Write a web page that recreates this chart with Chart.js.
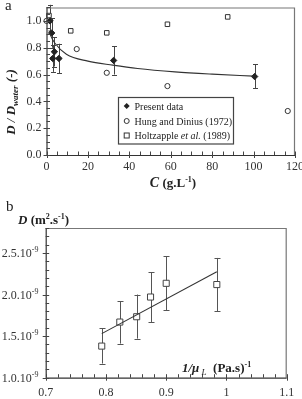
<!DOCTYPE html>
<html><head><meta charset="utf-8">
<script src="https://cdn.jsdelivr.net/npm/chart.js@4/dist/chart.umd.min.js"></script>
<style>
html,body{margin:0;padding:0;background:#fff;}
#wrap{position:relative;width:302px;height:399px;overflow:hidden;background:#fff;}
#a{position:absolute;left:0;top:0;}
#b{position:absolute;left:0;top:195px;}
</style></head><body>
<div id="wrap"><canvas id="a" width="302" height="195"></canvas><canvas id="b" width="302" height="204"></canvas></div>
<script>
// ---------- Panel a data ----------
const presentC  = [1.7, 2.5, 3.0, 3.8, 6.0, 32.4, 100.5];
const presentY  = [1.00, 0.91, 0.72, 0.77, 0.72, 0.705, 0.585];
const presentLo = [0.90, 0.80, 0.62, 0.66, 0.61, 0.60, 0.50];
const presentHi = [1.12, 1.02, 0.82, 0.88, 0.83, 0.81, 0.675];
const hungC = [0, 14.6, 29.1, 58.4, 116.5];
const hungY = [1.0, 0.79, 0.613, 0.514, 0.328];
const holtC = [1.2, 11.7, 29.1, 58.4, 87.5];
const holtY = [1.04, 0.926, 0.911, 0.975, 1.03];
const fitC = [1.2, 2, 4, 9.6, 20, 32, 44, 62, 80, 100];
const fitY = [0.93, 0.89, 0.835, 0.752, 0.70, 0.67, 0.645, 0.62, 0.603, 0.588];
const legendA = ['Present data', 'Hung and Dinius (1972)', 'Holtzapple et al. (1989)'];

// ---------- Panel b data (D in units of 1e-9 m2/s) ----------
const invMu = [0.793, 0.823, 0.851, 0.874, 0.900, 0.984];
const Dval  = [1.38, 1.669, 1.733, 1.97, 2.135, 2.12];
const Dlo   = [1.17, 1.41, 1.47, 1.67, 1.81, 1.80];
const Dhi   = [1.593, 1.92, 2.00, 2.27, 2.46, 2.44];
const lineX = [0.793, 0.984];
const lineY = [1.53, 2.275];
const yTicksB = [1.0, 1.5, 2.0, 2.5];

const SERIF = "'Liberation Serif','Times New Roman',serif";
const INK = '#333';

function rich(ctx, parts, x, y, align) {
  let w = 0;
  parts.forEach(p => { ctx.font = p[1]; w += ctx.measureText(p[0]).width; });
  let cx = align === 'center' ? x - w / 2 : (align === 'right' ? x - w : x);
  ctx.textAlign = 'left';
  ctx.textBaseline = 'alphabetic';
  parts.forEach(p => { ctx.font = p[1]; ctx.fillText(p[0], cx, y + (p[2] || 0)); cx += ctx.measureText(p[0]).width; });
}

function drawTicks(ctx, xs, ys, xMaj, xStep, yMaj, yStep) {
  const a = xs.chartArea || null;
  ctx.strokeStyle = '#444'; ctx.lineWidth = 1;
  const bottom = ys.bottom, left = xs.left;
  ctx.beginPath();
  for (let v = xs.min; v <= xs.max + 1e-9; v += xStep) {
    const px = Math.round(xs.getPixelForValue(v)) + 0.5;
    const isMaj = xMaj.some(m => Math.abs(m - v) < 1e-6);
    ctx.moveTo(px, bottom + (isMaj ? 3 : 0));
    ctx.lineTo(px, bottom - 3.5);
  }
  for (let v = ys.min; v <= ys.max + 1e-9; v += yStep) {
    const py = Math.round(ys.getPixelForValue(v)) + 0.5;
    const isMaj = yMaj.some(m => Math.abs(m - v) < 1e-6);
    ctx.moveTo(left - (isMaj ? 3 : 0), py);
    ctx.lineTo(left + 3.5, py);
  }
  ctx.stroke();
}

function drawBox(ctx, area) {
  ctx.save();
  ctx.strokeStyle = '#777'; ctx.lineWidth = 1.2;
  ctx.beginPath();
  ctx.moveTo(area.left, area.top + 0.5); ctx.lineTo(area.right - 0.5, area.top + 0.5); ctx.lineTo(area.right - 0.5, area.bottom);
  ctx.stroke();
  ctx.strokeStyle = '#333'; ctx.lineWidth = 1.2;
  ctx.beginPath();
  ctx.moveTo(area.left + 0.5, area.top); ctx.lineTo(area.left + 0.5, area.bottom + 0.5); ctx.lineTo(area.right, area.bottom + 0.5);
  ctx.stroke();
  ctx.restore();
}

function errBars(ctx, xs, ys, X, lo, hi, color, cap) {
  ctx.save();
  ctx.strokeStyle = color; ctx.lineWidth = 1;
  ctx.beginPath();
  for (let i = 0; i < X.length; i++) {
    const px = Math.round(xs.getPixelForValue(X[i])) + 0.5;
    const y1 = ys.getPixelForValue(lo[i]), y2 = ys.getPixelForValue(hi[i]);
    ctx.moveTo(px, y1); ctx.lineTo(px, y2);
    ctx.moveTo(px - cap, Math.round(y1) + 0.5); ctx.lineTo(px + cap, Math.round(y1) + 0.5);
    ctx.moveTo(px - cap, Math.round(y2) + 0.5); ctx.lineTo(px + cap, Math.round(y2) + 0.5);
  }
  ctx.stroke();
  ctx.restore();
}

function fixX(h) { return s => { s.height = h; s.paddingLeft = 0; s.paddingRight = 0; }; }
function fixY(w) { return s => { s.width = w; s.paddingTop = 0; s.paddingBottom = 0; }; }

// ---------- Chart a ----------
const plugA = {
  id: 'plugA',
  beforeDatasetsDraw(chart) {
    const { ctx, scales: { x, y } } = chart;
    errBars(ctx, x, y, presentC, presentLo, presentHi, '#444', 2.5);
  },
  afterDraw(chart) {
    const { ctx, chartArea, scales: { x, y } } = chart;
    drawBox(ctx, chartArea);
    drawTicks(ctx, x, y, [0,20,40,60,80,100,120], 5, [0,0.2,0.4,0.6,0.8,1.0], 0.05);
    ctx.fillStyle = '#222';
    // panel letter
    ctx.font = '15px ' + SERIF; ctx.textAlign = 'left'; ctx.textBaseline = 'alphabetic';
    ctx.fillText('a', 5, 10);
    // x title
    rich(ctx, [['C', 'bold italic 14px ' + SERIF], [' (g.L', 'bold 13px ' + SERIF], ['-1', 'bold 8px ' + SERIF, -5], [')', 'bold 13px ' + SERIF]], 173, 187, 'center');
    // y title
    ctx.save();
    ctx.translate(10, 102); ctx.rotate(-Math.PI / 2);
    rich(ctx, [['D / D', 'bold italic 13px ' + SERIF], ['water', 'bold italic 9px ' + SERIF, 3], [' (-)', 'bold italic 13px ' + SERIF]], 0, 4.5, 'center');
    ctx.restore();
    // legend
    const lx = 118.5, ly = 97.5, lw = 115, lh = 46.5;
    ctx.save();
    ctx.fillStyle = '#fff'; ctx.fillRect(lx, ly, lw, lh);
    ctx.strokeStyle = '#444'; ctx.lineWidth = 1.2; ctx.strokeRect(lx, ly, lw, lh);
    const mx = 126.7, rows = [106, 121, 135.5];
    ctx.lineWidth = 1; ctx.strokeStyle = '#333'; ctx.fillStyle = '#222';
    // diamond
    ctx.beginPath(); ctx.moveTo(mx, rows[0] - 3); ctx.lineTo(mx + 3, rows[0]); ctx.lineTo(mx, rows[0] + 3); ctx.lineTo(mx - 3, rows[0]); ctx.closePath(); ctx.fill();
    // circle
    ctx.beginPath(); ctx.arc(mx, rows[1], 2.5, 0, Math.PI * 2); ctx.stroke();
    // square
    ctx.strokeRect(mx - 2.5, rows[2] - 2.5, 5, 5);
    ctx.fillStyle = '#222';
    rich(ctx, [[legendA[0], '10px ' + SERIF]], 134.5, rows[0] + 3.5, 'left');
    rich(ctx, [[legendA[1], '10px ' + SERIF]], 134.5, rows[1] + 3.5, 'left');
    rich(ctx, [['Holtzapple ', '10px ' + SERIF], ['et al.', 'italic 10px ' + SERIF], [' (1989)', '10px ' + SERIF]], 134.5, rows[2] + 3.5, 'left');
    ctx.restore();
  }
};

const pt = (X, Y) => X.map((v, i) => ({ x: v, y: Y[i] }));

new Chart(document.getElementById('a'), {
  type: 'scatter',
  data: {
    datasets: [
      { type: 'line', data: pt(fitC, fitY), borderColor: '#333', borderWidth: 1.1, pointRadius: 0, cubicInterpolationMode: 'monotone', fill: false, clip: false },
      { data: pt(presentC, presentY), pointStyle: 'rectRot', pointRadius: 3.2, backgroundColor: '#222', borderColor: '#222', borderWidth: 1, clip: false },
      { data: pt(hungC, hungY), pointStyle: 'circle', pointRadius: 2.6, backgroundColor: '#fff', borderColor: '#333', borderWidth: 1, clip: false },
      { data: pt(holtC, holtY), pointStyle: 'rect', pointRadius: 3.2, backgroundColor: '#fff', borderColor: '#333', borderWidth: 1, clip: false }
    ]
  },
  options: {
    responsive: false, animation: false, devicePixelRatio: 1,
    layout: { padding: { left: 0, right: 7, top: 7.5, bottom: 0 } },
    plugins: { legend: { display: false }, tooltip: { enabled: false } },
    scales: {
      x: { type: 'linear', min: 0, max: 120, afterFit: fixX(40),
           grid: { display: false, drawTicks: false }, border: { display: false },
           ticks: { stepSize: 20, padding: 5, color: INK, font: { family: SERIF, size: 12 }, maxRotation: 0 } },
      y: { type: 'linear', min: 0, max: 1.1, afterFit: fixY(46.5),
           grid: { display: false, drawTicks: false }, border: { display: false },
           ticks: { stepSize: 0.2, includeBounds: false, padding: 5, color: INK, font: { family: SERIF, size: 12 },
                    callback: v => v.toFixed(1) } }
    }
  },
  plugins: [plugA]
});

// ---------- Chart b ----------
const plugB = {
  id: 'plugB',
  beforeDatasetsDraw(chart) {
    const { ctx, scales: { x, y } } = chart;
    errBars(ctx, x, y, invMu, Dlo, Dhi, '#555', 3);
  },
  afterDraw(chart) {
    const { ctx, chartArea, scales: { x, y } } = chart;
    drawBox(ctx, chartArea);
    drawTicks(ctx, x, y, [0.7,0.8,0.9,1.0,1.1], 0.02, [1.0,1.5,2.0,2.5], 0.1);
    ctx.fillStyle = '#222';
    ctx.font = '15px ' + SERIF; ctx.textAlign = 'left'; ctx.textBaseline = 'alphabetic';
    ctx.fillText('b', 6, 16);
    // y tick labels with superscript
    yTicksB.forEach(v => {
      const py = y.getPixelForValue(v);
      ctx.fillStyle = INK;
      rich(ctx, [[v.toFixed(1) + '.10', '12px ' + SERIF], ['-9', '8px ' + SERIF, -5]], 38.5, py + 4, 'right');
    });
    ctx.fillStyle = '#222';
    // y title
    rich(ctx, [['D', 'bold italic 13px ' + SERIF], [' (m', 'bold 13px ' + SERIF], ['2', 'bold 8px ' + SERIF, -5], ['.s', 'bold 13px ' + SERIF], ['-1', 'bold 8px ' + SERIF, -5], [')', 'bold 13px ' + SERIF]], 18, 29, 'left');
    // x title
    rich(ctx, [['1/\u03bc', 'bold italic 13px ' + SERIF], [' L', 'italic 9px ' + SERIF, 3], ['  (Pa.s)', 'bold 13px ' + SERIF], ['-1', 'bold 8px ' + SERIF, -5]], 182, 177, 'left');
  }
};

new Chart(document.getElementById('b'), {
  type: 'scatter',
  data: {
    datasets: [
      { type: 'line', data: pt(lineX, lineY), borderColor: '#333', borderWidth: 1.1, pointRadius: 0, fill: false },
      { data: pt(invMu, Dval), pointStyle: 'rect', pointRadius: 4.3, backgroundColor: '#fff', borderColor: '#444', borderWidth: 1, clip: false }
    ]
  },
  options: {
    responsive: false, animation: false, devicePixelRatio: 1,
    layout: { padding: { left: 0, right: 15.3, top: 33, bottom: 0 } },
    plugins: { legend: { display: false }, tooltip: { enabled: false } },
    scales: {
      x: { type: 'linear', min: 0.7, max: 1.1, afterFit: fixX(21.3),
           grid: { display: false, drawTicks: false }, border: { display: false },
           ticks: { stepSize: 0.1, padding: 8, color: INK, font: { family: SERIF, size: 12 }, maxRotation: 0,
                    callback: v => String(Math.round(v * 10) / 10) } },
      y: { type: 'linear', min: 1.0, max: 2.8, afterFit: fixY(45.7),
           grid: { display: false, drawTicks: false }, border: { display: false },
           ticks: { display: false, stepSize: 0.5, includeBounds: false } }
    }
  },
  plugins: [plugB]
});
</script>
</body></html>
